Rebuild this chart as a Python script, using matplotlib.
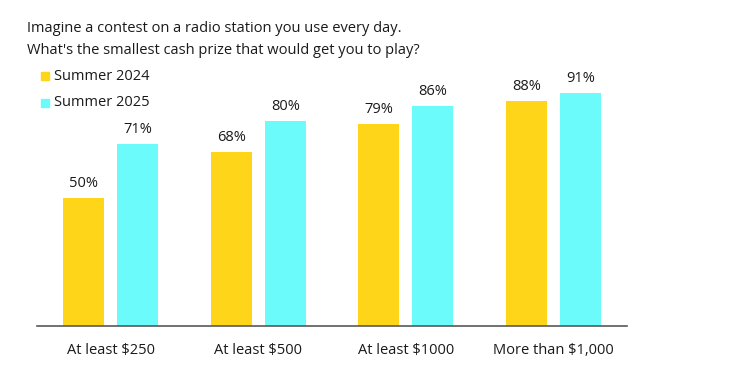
import matplotlib
matplotlib.use("Agg")
import matplotlib.pyplot as plt
import numpy as np
from matplotlib.patches import Rectangle

categories = ["At least $250", "At least $500", "At least $1000", "More than $1,000"]
summer_2024 = [50, 68, 79, 88]
summer_2025 = [71, 80, 86, 91]
series_names = ["Summer 2024", "Summer 2025"]
title_lines = ["Imagine a contest on a radio station you use every day.",
               "What's the smallest cash prize that would get you to play?"]

YELLOW = "#FFD519"
CYAN = "#6CFBFB"
TEXT = "#1a1a1a"
FONT = "Open Sans"

plt.rcParams['font.family'] = [FONT, 'DejaVu Sans']

W, H = 735, 370
fig = plt.figure(figsize=(W / 100, H / 100), dpi=100)
ax = fig.add_axes([37 / W, 44 / H, 590 / W, 256 / H])

x = np.arange(len(categories))
bw = 0.278
off = 0.183
b1 = ax.bar(x - off, summer_2024, bw, color=YELLOW)
b2 = ax.bar(x + off, summer_2025, bw, color=CYAN)

for bars, vals in ((b1, summer_2024), (b2, summer_2025)):
    for rect, v in zip(bars, vals):
        ax.annotate(f"{v}%", (rect.get_x() + rect.get_width() / 2, v),
                    xytext=(0, 5), textcoords="offset points",
                    ha="center", va="bottom", fontsize=10.5, color=TEXT)

ax.set_xlim(-0.5, 3.5)
ax.set_ylim(0, 100)
ax.set_xticks(x)
ax.set_xticklabels(categories, fontsize=10.5, color=TEXT)
ax.tick_params(axis="x", length=0, pad=12)
ax.set_yticks([])
for s in ["top", "right", "left"]:
    ax.spines[s].set_visible(False)
ax.spines["bottom"].set_color("#595959")
ax.spines["bottom"].set_linewidth(1.2)

# title
fig.text(27 / W, 1 - 28 / H, title_lines[0], fontsize=10.5, color=TEXT, va="center", ha="left")
fig.text(27 / W, 1 - 50 / H, title_lines[1], fontsize=10.5, color=TEXT, va="center", ha="left")

# legend
for i, (name, col) in enumerate(zip(series_names, [YELLOW, CYAN])):
    yc = 76 + 27 * i
    fig.patches.append(Rectangle((41 / W, 1 - (yc + 4) / H), 8 / W, 8 / H,
                                 transform=fig.transFigure, color=col))
    fig.text(54 / W, 1 - yc / H, name, fontsize=10.5, color=TEXT, va="center", ha="left")

fig.savefig("out.png", dpi=100)
